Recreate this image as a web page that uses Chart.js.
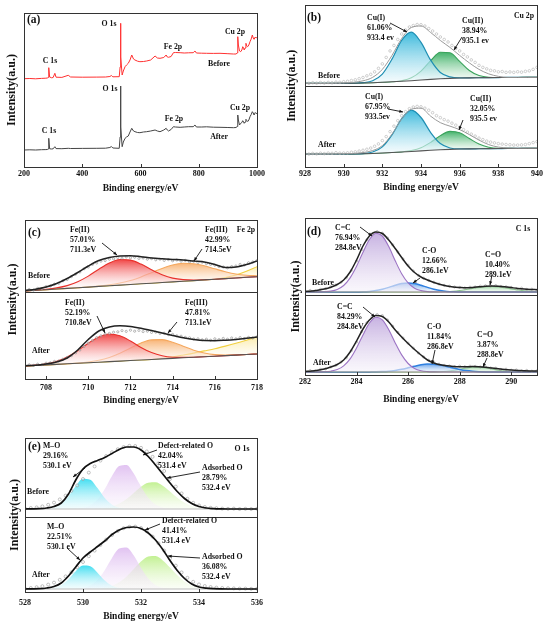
<!DOCTYPE html>
<html>
<head>
<meta charset="utf-8">
<script src="https://cdn.jsdelivr.net/npm/chart.js@4.4.0/dist/chart.umd.min.js"></script>
<style>
html, body { margin: 0; padding: 0; background: #fff; width: 550px; height: 629px; overflow: hidden; }
canvas { position: absolute; }
</style>
</head>
<body>
<canvas id="chartA" width="275" height="205" style="left:0;top:0"></canvas>
<canvas id="chartB" width="275" height="205" style="left:275px;top:0"></canvas>
<canvas id="chartC" width="275" height="210" style="left:0;top:205px"></canvas>
<canvas id="chartD" width="275" height="210" style="left:275px;top:205px"></canvas>
<canvas id="chartE" width="275" height="204" style="left:0;top:425px"></canvas>
<script>
// ---- (a) survey spectra, intensity in arbitrary units ----
var surveyEnergy = [200,220,240,260,275,280,283,285,288,295,300,306,310,330,352,360,400,450,480,495,500,505,527,530,531,533,537,541,547,552,558,564,570,576,581,590,598,610,621,635,650,658,667,680,688,692,696,705,713,720,736,750,765,781,787,792,810,827,850,873,900,919,928,932,934,936,940,944,948,951,954,956,959,962,965,968,972,976,980,984,987,990,994,997,1000];
var surveyBefore = [88.3,88.5,88.2,88.6,88.8,89,89.5,99.3,90,89.2,89.5,93.7,89.8,89.6,91.7,90,89.8,89.9,90,90.5,91.5,90.2,90.3,100,143.7,110,92,96,100.3,102,103.7,107,112,108,107,105.8,105.3,105.5,106,107,111,109,108.7,109.5,112,110,109.7,110.5,114.3,114.5,114.3,114,114.2,114.3,116,114,113.8,113.7,113.6,113.7,113.3,113,113,114,130.3,122,116,115.3,117,120.3,119,117,119,123.7,121,120.3,122,125.3,128,132,129,127.7,130,129,129.7];
var surveyAfter = [17,17.2,17,17.3,17.4,17.5,18,28.7,18.2,18,18.2,20.3,18.4,18.3,18.7,18.5,18.6,18.7,18.8,19.5,20.5,19,18.7,30,81,40,20.3,25,28.7,30,31,35,38.7,36,35.3,34.5,34.3,35,35.3,36,37,36,35.3,37,38.7,37,36,37.5,40.3,40,39.7,40,40.3,40.3,42,40,40,40.2,39.8,39.7,39.5,39.3,39.5,40.5,52,47,42,43.7,44.5,46.3,45,43.7,45,47.7,46.5,45.5,47,50.3,52.5,55.3,54,52,54.5,53.5,53.7];
var surveyTicks = [200,400,600,800,1000];

// ---- (b) Cu 2p ----
var cuEnergy = [928,928.5,929,929.5,930,930.5,931,931.5,932,932.5,933,933.5,934,934.5,935,935.5,936,936.5,937,937.5,938,938.5,939,939.5,940];
var cuBaseBefore = [84,84,84,84,84,84.1,84.3,84.6,85,85.5,86,86.6,87.3,87.9,88.5,89,89.3,89.5,89.6,89.7,89.8,89.9,89.9,90,90];
var cuIBefore = [0,0,0,0,0,0,0.3,2.0,8.3,22.8,41.1,48.7,37.8,19.3,6.4,1.4,0.2,0,0,0,0,0,0,0,0];
var cuIIBefore = [0,0,0,0,0,0,0,0,0,0,0.6,2.9,9.0,18.8,26.7,25.7,16.7,7.4,2.2,0.4,0.1,0,0,0,0];
var cuEnvBefore = [84,84,84,84.2,84.5,85,86.5,90,98,112,129,140,141.5,135,127,120,112,104.5,98,93.5,91,90,90,90,90];
var cuBaseAfter = [13,13,13,13,13,13.1,13.3,13.6,14,14.5,15,15.6,16.2,16.8,17.3,17.7,18,18.2,18.3,18.4,18.5,18.6,18.6,18.7,18.7];
var cuIAfter = [0,0,0,0,0,0,0.2,1.4,6.2,17.8,33.5,41.4,33.5,17.8,6.2,1.4,0.2,0,0,0,0,0,0,0,0];
var cuIIAfter = [0,0,0,0,0,0,0,0,0,0,0.2,0.9,3.1,7.9,14.2,18.1,16.3,10.4,4.7,1.5,0.3,0.1,0,0,0];
var cuEnvAfter = [13,13,13,13.1,13.3,13.6,14.5,16.5,21.5,33,48,58,59,51,44.5,41,37.5,32.5,27,22.5,20,19.2,19,19,19];
var cuDotEnergy = [928,928.2,928.4,928.6,928.8,929,929.2,929.4,929.6,929.8,930,930.2,930.4,930.6,930.8,931,931.2,931.4,931.6,931.8,932,932.2,932.4,932.6,932.8,933,933.2,933.4,933.6,933.8,934,934.2,934.4,934.6,934.8,935,935.2,935.4,935.6,935.8,936,936.2,936.4,936.6,936.8,937,937.2,937.4,937.6,937.8,938,938.2,938.4,938.6,938.8,939,939.2,939.4,939.6,939.8,940];
var cuDotsBefore = [84.5,84.0,84.6,84.2,84.8,84.3,84.9,84.5,85.2,85.0,85.6,86.0,86.8,87.5,88.6,89.8,91.5,93.0,95.5,99.0,103.5,110.0,116.5,122.0,128.0,133.5,137.5,140.5,142.0,143.0,142.8,141.5,139.0,136.5,133.5,130.5,128.0,125.5,122.0,119.0,116.5,113.0,110.5,107.5,105.0,102.0,100.0,98.5,97.0,96.5,95.5,95.8,95.0,95.4,95.0,95.6,95.2,96.0,96.5,98.0,100.0];
var cuDotsAfter = [13.5,13.0,13.6,13.2,13.8,13.4,14.0,13.7,14.3,13.9,14.0,14.2,14.8,15.2,16.0,16.8,17.8,19.0,20.8,23.2,26.5,30.5,35.5,41.0,46.5,51.5,55.5,58.5,60.2,60.8,60.4,59.0,57.0,54.5,51.5,49.5,47.5,46.0,44.0,42.0,40.0,37.5,35.0,33.0,31.0,29.0,27.5,26.0,25.0,24.2,23.5,23.0,22.6,22.3,22.0,22.0,22.2,22.6,23.4,24.5,25.5];
var cuTicks = [928,930,932,934,936,938,940];

// ---- (c) Fe 2p ----
var feEnergy = [707,707.5,708,708.5,709,709.5,710,710.5,711,711.5,712,712.5,713,713.5,714,714.5,715,715.5,716,716.5,717,717.5,718];
var feBaseBefore = [88,88.7,89.3,90,90.6,91.3,91.9,92.6,93.2,93.9,94.5,95.2,95.8,96.5,97.1,97.8,98.4,99.1,99.7,100.4,101,101.7,102.3];
var feIIBefore = [0,0.1,0.4,1.1,2.8,6.0,11.0,17.2,22.8,25.6,24.4,19.7,13.5,7.8,3.8,1.6,0.6,0.2,0,0,0,0,0];
var feIIIBefore = [0,0,0,0,0,0,0.1,0.4,1.0,2.1,4.0,6.9,10.5,14.1,16.9,17.9,16.9,14.1,10.5,6.9,4.0,2.1,1.0];
var feSatBefore = [0,0,0,0,0,0,0,0,0,0,0,0,0,0,0,0,0,0,0,1.0,3.0,6.0,10];
var feEnvBefore = [88.5,89.8,92,95.5,100.5,106.5,113,118.5,121.5,123,123.3,122.3,121,120.2,119.6,119,118,117,114.5,111.5,112,114.5,118];
var feBaseAfter = [13,13.5,14.1,14.6,15.2,15.7,16.3,16.8,17.4,17.9,18.5,19,19.5,20.1,20.6,21.2,21.7,22.3,22.8,23.4,23.9,24.5,25];
var feIIAfter = [0.1,0.4,1.2,3.1,6.9,12.6,19.5,25.3,27.6,25.3,19.5,12.6,6.9,3.1,1.2,0.4,0.1,0,0,0,0,0,0];
var feIIIAfter = [0,0,0,0,0,0.2,0.7,1.9,4.2,7.9,12.6,17.0,19.6,19.3,16.2,11.6,7.1,3.7,1.6,0.6,0.2,0,0];
var feSatAfter = [0,0,0,0,0,0,0,0,0,0,0,0,0,0.6,1.6,2.8,4.2,5.8,7.5,9.5,11.8,14.3,17];
var feEnvAfter = [13.2,13.8,15,17,21,29,39.5,48,52,53.2,52.6,50.8,48.4,46,43.6,41.2,39.4,38.4,38.3,38.8,39.6,40.7,42];
var feDotEnergy = [707,707.2,707.4,707.6,707.8,708,708.2,708.4,708.6,708.8,709,709.2,709.4,709.6,709.8,710,710.2,710.4,710.6,710.8,711,711.2,711.4,711.6,711.8,712,712.2,712.4,712.6,712.8,713,713.2,713.4,713.6,713.8,714,714.2,714.4,714.6,714.8,715,715.2,715.4,715.6,715.8,716,716.2,716.4,716.6,716.8,717,717.2,717.4,717.6,717.8,718];
var feDotsBefore = [88.0,89.5,88.8,90.6,90.2,92.4,93.0,94.8,95.6,98.2,99.5,102.4,104.8,107.0,110.2,112.0,114.6,116.0,117.8,118.4,119.8,120.2,121.4,120.8,122.0,121.2,121.8,120.6,121.0,119.8,120.4,119.2,119.8,118.6,119.4,118.2,119.0,117.8,118.6,117.2,117.8,116.4,116.8,115.4,114.6,113.8,112.4,112.0,111.2,112.4,113.0,114.6,114.0,116.2,117.0,118.4];
var feDotsAfter = [13.4,14.2,13.6,14.8,14.4,15.8,16.2,17.6,18.0,19.8,21.6,23.4,26.2,29.0,32.4,35.8,38.6,41.4,43.2,44.8,45.6,46.8,47.2,48.4,47.6,48.8,47.8,48.6,47.4,47.8,46.6,46.8,45.6,45.8,44.4,44.6,43.2,42.8,41.6,41.2,40.0,40.2,39.2,39.8,38.8,40.2,39.4,40.6,39.8,41.0,40.2,41.4,40.4,41.6,41.0,42.2];
var feTicks = [708,710,712,714,716,718];

// ---- (d) C 1s ----
var cEnergy = [282,282.25,282.5,282.75,283,283.25,283.5,283.75,284,284.25,284.5,284.75,285,285.25,285.5,285.75,286,286.25,286.5,286.75,287,287.25,287.5,287.75,288,288.25,288.5,288.75,289,289.25,289.5,289.75,290,290.25,290.5,290.75,291];
var cBaseBefore = 83;
var ccBefore = [0,0,0.1,0.3,0.9,2.6,6.5,14.1,25.7,39.8,52.5,58.8,56.0,45.4,31.2,18.3,9.1,3.8,1.4,0.4,0.1,0,0,0,0,0,0,0,0,0,0,0,0,0,0,0,0];
var coBefore = [0,0,0,0,0,0,0,0,0.1,0.2,0.6,1.4,2.8,4.6,6.7,8.4,9,8.4,6.7,4.6,2.8,1.4,0.6,0.2,0.1,0,0,0,0,0,0,0,0,0,0,0,0];
var cooBefore = [0,0,0,0,0,0,0,0,0,0,0,0,0,0,0,0,0,0,0,0,0,0.2,0.4,0.8,1.5,2.5,3.6,4.6,5.3,5.5,5.1,4.2,3.1,2.1,1.2,0.6,0.3];
var cEnvBefore = [83.5,84,84.8,86,87.8,90.5,95,103,115,129,139,143,141.5,135,126.5,117.5,109,102.5,98,95,92.5,90.5,89,88,87.5,87.2,87.5,88.2,88.8,89,88.8,88.2,87.4,86.6,86,85.6,85.3];
var cBaseAfter = 3;
var ccAfter = [0,0,0.1,0.2,0.8,2.4,6.1,13.1,24.0,37.1,49.0,54.8,52.2,42.3,29.1,17.1,8.5,3.6,1.3,0.4,0.1,0,0,0,0,0,0,0,0,0,0,0,0,0,0,0,0];
var coAfter = [0,0,0,0,0,0,0,0,0,0,0.1,0.2,0.4,0.8,1.6,2.7,4.2,5.8,7.2,7.9,7.8,6.9,5.5,3.9,2.5,1.4,0.7,0.3,0.1,0,0,0,0,0,0,0,0];
var cooAfter = [0,0,0,0,0,0,0,0,0,0,0,0,0,0,0,0,0,0,0,0,0.1,0.3,0.8,1.6,2.8,4.0,4.8,4.9,4.2,3.0,1.8,0.9,0.4,0.1,0,0,0];
var cEnvAfter = [3.5,4,4.8,6,8,10.5,15,23,34,46,55,59.5,58.5,53,45,38,31.5,25.5,20,15,12,10.2,9.2,8.6,8.3,8.3,8.4,8.3,7.8,7,6.2,5.5,5,4.6,4.3,4.1,4];
var cDotEnergy = [282,282.2,282.4,282.6,282.8,283,283.2,283.4,283.6,283.8,284,284.2,284.4,284.6,284.8,285,285.2,285.4,285.6,285.8,286,286.2,286.4,286.6,286.8,287,287.2,287.4,287.6,287.8,288,288.2,288.4,288.6,288.8,289,289.2,289.4,289.6,289.8,290,290.2,290.4,290.6,290.8,291];
var cDotsBefore = [83.8,84.6,84.2,85.6,86.4,88.2,90.0,92.8,97.2,104.6,114.0,125.4,135.2,141.0,143.4,141.8,137.0,130.2,123.0,116.0,109.8,104.0,99.6,96.8,94.6,92.8,91.0,89.6,88.8,88.0,87.6,87.0,87.8,88.0,88.8,89.2,89.0,89.4,88.6,88.2,87.6,86.4,86.8,85.6,85.8,85.0];
var cDotsAfter = [3.6,4.4,4.2,5.6,6.2,8.0,9.8,13.0,17.2,24.4,33.0,43.4,52.2,58.0,60.4,59.4,55.0,48.8,42.6,37.0,31.8,26.8,22.0,18.0,14.8,12.4,10.8,9.6,9.0,8.4,8.8,8.2,8.8,8.6,8.0,8.2,7.0,6.8,5.6,5.8,4.8,5.0,4.2,4.6,3.8,4.2];
var cTicks = [282,284,286,288,290];

// ---- (e) O 1s ----
var oEnergy = [528,528.25,528.5,528.75,529,529.25,529.5,529.75,530,530.25,530.5,530.75,531,531.25,531.5,531.75,532,532.25,532.5,532.75,533,533.25,533.5,533.75,534,534.25,534.5,534.75,535,535.25,535.5,535.75,536];
var oBaseBefore = 83;
var moBefore = [0,0,0,0.3,1.6,5.2,12.7,22.9,30.3,29.3,20.9,10.9,4.2,1.2,0.2,0,0,0,0,0,0,0,0,0,0,0,0,0,0,0,0,0,0];
var defBefore = [0,0,0,0,0,0,0,0.2,1.0,3.6,9.5,20.0,33.1,43.1,44.1,35.6,22.5,11.2,4.4,1.4,0.3,0,0,0,0,0,0,0,0,0,0,0,0];
var adsBefore = [0,0,0,0,0,0,0,0,0,0,0.3,1.0,2.5,5.4,10.0,16.1,22.2,26.3,26.7,23.2,17.4,11.2,6.2,2.9,1.2,0.4,0.1,0,0,0,0,0,0];
var oEnvBefore = [83,83.1,83.3,84,85.5,89,98,112,123,128.5,131.5,134.5,138.5,142.5,145,145,142,135.5,127,118,109,100.5,93.5,88.5,85.5,84,83.4,83.1,83,83,83,83,83];
var oBaseAfter = 3;
var moAfter = [0,0,0,0.2,1.2,4.0,9.8,17.7,23.4,22.7,16.2,8.4,3.3,0.9,0.2,0,0,0,0,0,0,0,0,0,0,0,0,0,0,0,0,0,0];
var defAfter = [0,0,0,0,0,0,0,0.2,0.9,3.4,8.9,18.8,31.1,40.5,41.5,33.5,21.2,10.5,4.1,1.3,0.3,0,0,0,0,0,0,0,0,0,0,0,0];
var adsAfter = [0,0,0,0,0,0,0,0,0,0,0.4,1.2,3.1,6.7,12.3,19.9,27.4,32.4,32.9,28.6,21.5,13.8,7.6,3.6,1.5,0.5,0.1,0,0,0,0,0,0];
var oEnvAfter = [3,3.1,3.3,4,5.5,9,16,25,34,40,45.5,51,57.5,62,64.5,65,63.5,59,52,42.5,31.5,21.5,13.5,8,5,3.8,3.3,3.1,3,3,3,3,3];
var oDotEnergy = [528,528.2,528.4,528.6,528.8,529,529.2,529.4,529.6,529.8,530,530.2,530.4,530.6,530.8,531,531.2,531.4,531.6,531.8,532,532.2,532.4,532.6,532.8,533,533.2,533.4,533.6,533.8,534,534.2,534.4,534.6,534.8,535,535.2,535.4,535.6,535.8,536];
var oDotsBefore = [83.5,84,84.6,85.6,87.2,89.4,92.6,96.4,101.2,106.6,113.0,119.4,125.6,131.4,136.0,139.8,142.8,145.0,146.2,146.0,144.2,140.6,135.2,128.6,121.0,113.0,105.4,98.6,93.2,89.2,86.6,85.0,84.2,83.8,83.4,83.2,83.4,83.0,83.2,83.0,83.2];
var oDotsAfter = [3.4,4.0,4.8,5.8,7.4,9.4,12.2,15.6,19.8,24.6,30.0,35.8,41.4,47.0,52.4,57.0,61.0,63.8,65.2,65.4,64.0,60.6,55.4,48.8,41.4,33.6,26.4,19.6,14.2,10.2,7.6,6.0,5.0,4.4,4.0,3.8,3.6,3.4,3.4,3.2,3.2];
var oTicks = [528,530,532,534,536];

var SERIF = '"Liberation Serif", "Times New Roman", serif';
Chart.defaults.font.family = SERIF;
Chart.defaults.font.weight = 'bold';
Chart.defaults.color = '#111';

function pts(xs, ys) {
  return xs.map(function (x, i) { return {x: x, y: ys[i]}; });
}

function grad(top, bot, c1, c2) {
  return function (ctx) {
    var chart = ctx.chart, ys = chart.scales.y;
    if (!chart.chartArea || !ys) return c1;
    var g = chart.ctx.createLinearGradient(0, ys.getPixelForValue(top), 0, ys.getPixelForValue(bot));
    g.addColorStop(0, c1);
    g.addColorStop(1, c2);
    return g;
  };
}

function arrow(c, x1, y1, x2, y2) {
  var a = Math.atan2(y2 - y1, x2 - x1);
  c.beginPath(); c.moveTo(x1, y1); c.lineTo(x2, y2); c.stroke();
  c.beginPath();
  c.moveTo(x2, y2);
  c.lineTo(x2 - 4 * Math.cos(a - 0.4), y2 - 4 * Math.sin(a - 0.4));
  c.lineTo(x2 - 4 * Math.cos(a + 0.4), y2 - 4 * Math.sin(a + 0.4));
  c.closePath(); c.fill();
}

// frame, inward ticks, divider line, labels and arrows
var notesPlugin = {
  id: 'notes',
  afterDraw: function (chart, args, o) {
    var c = chart.ctx, a = chart.chartArea, xs = chart.scales.x, ys = chart.scales.y;
    c.save();
    c.strokeStyle = '#333';
    c.lineWidth = 1;
    if (o.divider != null) {
      var py = Math.round(ys.getPixelForValue(o.divider)) + 0.5;
      c.beginPath(); c.moveTo(a.left, py); c.lineTo(a.right, py); c.stroke();
    }
    xs.ticks.forEach(function (t) {
      var px = Math.round(xs.getPixelForValue(t.value)) + 0.5;
      c.beginPath(); c.moveTo(px, a.bottom); c.lineTo(px, a.bottom - 3); c.stroke();
    });
    c.strokeRect(Math.round(a.left) + 0.5, Math.round(a.top) + 0.5, Math.round(a.right - a.left), Math.round(a.bottom - a.top));
    c.fillStyle = '#111';
    c.textBaseline = 'middle';
    (o.texts || []).forEach(function (t) {
      c.font = 'bold ' + (t.size || 7.8) + 'px ' + SERIF;
      c.textAlign = t.align || 'left';
      t.lines.forEach(function (s, i) { c.fillText(s, t.x - o.ox, t.y - o.oy + i * 10); });
    });
    c.strokeStyle = '#111';
    c.lineWidth = 0.9;
    (o.arrows || []).forEach(function (r) { arrow(c, r[0] - o.ox, r[1] - o.oy, r[2] - o.ox, r[3] - o.oy); });
    c.restore();
  }
};

// one spectrum: baseline, fitted components, raw points, envelope
function spectrum(list, s) {
  var flat = !Array.isArray(s.base);
  var baseIdx = list.length;
  var baseAt = function (i) { return flat ? s.base : s.base[i]; };
  list.push({
    data: flat ? [{x: s.grid[0], y: s.base}, {x: s.grid[s.grid.length - 1], y: s.base}] : pts(s.grid, s.base),
    borderColor: s.baseColor, borderWidth: 1.1, pointRadius: 0, fill: false, order: 6
  });
  s.comps.forEach(function (cp, k) {
    var data = s.grid.map(function (x, i) { return {x: x, y: baseAt(i) + cp.h[i]}; });
    var iMax = 0;
    cp.h.forEach(function (v, i) { if (v > cp.h[iMax]) iMax = i; });
    list.push({
      data: data, borderColor: cp.line, borderWidth: cp.lw, pointRadius: 0,
      cubicInterpolationMode: 'monotone',
      fill: flat ? {value: s.base} : baseIdx,
      backgroundColor: grad(data[iMax].y, baseAt(iMax), cp.c1, cp.c2),
      order: 20 - k
    });
  });
  list.push({
    data: pts(s.dotE, s.dots), showLine: false, pointRadius: s.dotR, pointBorderWidth: 0.6,
    pointBorderColor: s.dotColor, pointBackgroundColor: 'rgba(255,255,255,0.4)', order: 3
  });
  list.push({
    data: pts(s.grid, s.env), borderColor: s.envColor, borderWidth: s.envW, pointRadius: 0,
    cubicInterpolationMode: 'monotone', fill: false, order: 2
  });
}

function build(id, box, datasets, xr, yMax, notes) {
  var xH = box.titleY - box.fb + 5.7;
  notes.ox = box.left;
  notes.oy = box.top;
  return new Chart(document.getElementById(id), {
    type: 'line',
    data: {datasets: datasets},
    options: {
      responsive: false,
      animation: false,
      devicePixelRatio: 1,
      events: [],
      layout: {padding: {left: 0, top: box.ft - box.top, right: box.left + box.w - box.fr, bottom: box.top + box.h - box.fb - xH}},
      plugins: {legend: {display: false}, tooltip: {enabled: false}, notes: notes},
      scales: {
        x: {
          type: 'linear', min: xr[0], max: xr[1],
          afterBuildTicks: function (s) { s.ticks = xr[2].map(function (v) { return {value: v}; }); },
          afterFit: function (s) { s.height = xH; },
          grid: {display: false, drawTicks: false},
          border: {display: false},
          ticks: {font: {size: 8, weight: 'bold'}, color: '#111', padding: box.tickY - box.fb - 4.8, autoSkip: false, maxRotation: 0,
                  callback: function (v) { return String(v); }},
          title: {display: true, text: 'Binding energy/eV', font: {size: 9.5, weight: 'bold'}, color: '#111', padding: {top: 0, bottom: 0}}
        },
        y: {
          type: 'linear', min: 0, max: yMax,
          afterFit: function (s) { s.width = box.fl - box.left; },
          ticks: {display: false},
          grid: {display: false, drawTicks: false},
          border: {display: false},
          title: {display: true, text: 'Intensity(a.u.)', font: {size: 12, weight: 'bold'}, color: '#111', padding: {top: box.yTitleX - box.left - 7.2, bottom: 0}}
        }
      }
    },
    plugins: [notesPlugin]
  });
}

// (a)
build('chartA', {left: 0, top: 0, w: 275, h: 205, fl: 24, ft: 13, fr: 257, fb: 167, tickY: 174, titleY: 189, yTitleX: 12}, [
  {data: pts(surveyEnergy, surveyBefore), borderColor: '#ff3030', borderWidth: 1, pointRadius: 0, fill: false},
  {data: pts(surveyEnergy, surveyAfter), borderColor: '#444', borderWidth: 1, pointRadius: 0, fill: false}
], [200, 1000, surveyTicks], 154, {
  texts: [
    {x: 27, y: 20, lines: ['(a)'], size: 11.5},
    {x: 109, y: 24, lines: ['O 1s'], align: 'center'},
    {x: 50, y: 61, lines: ['C 1s'], align: 'center'},
    {x: 173, y: 47, lines: ['Fe 2p'], align: 'center'},
    {x: 235, y: 32, lines: ['Cu 2p'], align: 'center'},
    {x: 219, y: 64, lines: ['Before'], align: 'center'},
    {x: 110, y: 89, lines: ['O 1s'], align: 'center'},
    {x: 49, y: 131, lines: ['C 1s'], align: 'center'},
    {x: 174, y: 119, lines: ['Fe 2p'], align: 'center'},
    {x: 240, y: 108, lines: ['Cu 2p'], align: 'center'},
    {x: 219, y: 137, lines: ['After'], align: 'center'}
  ]
});

// (b)
var setsB = [];
spectrum(setsB, {grid: cuEnergy, base: cuBaseBefore, baseColor: '#555', env: cuEnvBefore, envColor: '#9a9a9a', envW: 1,
  dotE: cuDotEnergy, dots: cuDotsBefore, dotColor: '#b0b0b0', dotR: 1.3,
  comps: [
    {h: cuIIBefore, line: '#3aa35c', lw: 1.1, c1: 'rgba(46,170,90,0.9)', c2: 'rgba(235,248,238,0.6)'},
    {h: cuIBefore, line: '#1f8fb3', lw: 1.2, c1: 'rgba(40,178,216,0.9)', c2: 'rgba(232,247,251,0.6)'}
  ]});
spectrum(setsB, {grid: cuEnergy, base: cuBaseAfter, baseColor: '#555', env: cuEnvAfter, envColor: '#9a9a9a', envW: 1,
  dotE: cuDotEnergy, dots: cuDotsAfter, dotColor: '#b0b0b0', dotR: 1.3,
  comps: [
    {h: cuIIAfter, line: '#3aa35c', lw: 1.1, c1: 'rgba(46,170,90,0.9)', c2: 'rgba(235,248,238,0.6)'},
    {h: cuIAfter, line: '#1f8fb3', lw: 1.2, c1: 'rgba(40,178,216,0.9)', c2: 'rgba(232,247,251,0.6)'}
  ]});
build('chartB', {left: 275, top: 0, w: 275, h: 205, fl: 305, ft: 4, fr: 537, fb: 167, tickY: 174, titleY: 188, yTitleX: 292},
  setsB, [928, 940, cuTicks], 163, {
  divider: 81,
  texts: [
    {x: 307, y: 18, lines: ['(b)'], size: 11.5},
    {x: 524, y: 16, lines: ['Cu 2p'], align: 'center'},
    {x: 367, y: 18, lines: ['Cu(I)', '61.06%', '933.4 ev']},
    {x: 462, y: 21, lines: ['Cu(II)', '38.94%', '935.1 ev']},
    {x: 318, y: 76, lines: ['Before']},
    {x: 365, y: 97, lines: ['Cu(I)', '67.95%', '933.5ev']},
    {x: 470, y: 99, lines: ['Cu(II)', '32.05%', '935.5 ev']},
    {x: 318, y: 145, lines: ['After']}
  ],
  arrows: [[390, 23, 407, 32], [462, 37, 454, 50], [388, 109, 403, 112], [463, 120, 459, 130]]
});

// (c)
var setsC = [];
spectrum(setsC, {grid: feEnergy, base: feBaseBefore, baseColor: '#555', env: feEnvBefore, envColor: '#222', envW: 1.5,
  dotE: feDotEnergy, dots: feDotsBefore, dotColor: '#8a8a8a', dotR: 1.1,
  comps: [
    {h: feSatBefore, line: '#f2d040', lw: 1.1, c1: 'rgba(250,225,120,0.6)', c2: 'rgba(255,250,230,0.4)'},
    {h: feIIIBefore, line: '#f5a85e', lw: 1.1, c1: 'rgba(247,168,96,0.85)', c2: 'rgba(253,242,230,0.5)'},
    {h: feIIBefore, line: '#e8302a', lw: 1.1, c1: 'rgba(240,60,60,0.95)', c2: 'rgba(253,236,236,0.5)'}
  ]});
spectrum(setsC, {grid: feEnergy, base: feBaseAfter, baseColor: '#555', env: feEnvAfter, envColor: '#222', envW: 1.5,
  dotE: feDotEnergy, dots: feDotsAfter, dotColor: '#8a8a8a', dotR: 1.1,
  comps: [
    {h: feSatAfter, line: '#f2d040', lw: 1.1, c1: 'rgba(250,225,120,0.6)', c2: 'rgba(255,250,230,0.4)'},
    {h: feIIIAfter, line: '#f5a85e', lw: 1.1, c1: 'rgba(247,168,96,0.85)', c2: 'rgba(253,242,230,0.5)'},
    {h: feIIAfter, line: '#e8302a', lw: 1.1, c1: 'rgba(240,60,60,0.95)', c2: 'rgba(253,236,236,0.5)'}
  ]});
build('chartC', {left: 0, top: 205, w: 275, h: 210, fl: 25, ft: 220, fr: 257, fb: 379, tickY: 388, titleY: 401, yTitleX: 13},
  setsC, [707, 718, feTicks], 159, {
  divider: 87,
  texts: [
    {x: 28, y: 233, lines: ['(c)'], size: 11.5},
    {x: 246, y: 230, lines: ['Fe 2p'], align: 'center'},
    {x: 70, y: 230, lines: ['Fe(II)', '57.01%', '711.3eV']},
    {x: 205, y: 230, lines: ['Fe(III)', '42.99%', '714.5eV']},
    {x: 28, y: 276, lines: ['Before']},
    {x: 65, y: 303, lines: ['Fe(II)', '52.19%', '710.8eV']},
    {x: 185, y: 303, lines: ['Fe(III)', '47.81%', '713.1eV']},
    {x: 32, y: 351, lines: ['After']}
  ],
  arrows: [[102, 243, 117, 255], [202, 249, 194, 261], [97, 316, 105, 333], [177, 322, 168, 333]]
});

// (d)
var setsD = [];
spectrum(setsD, {grid: cEnergy, base: cBaseBefore, baseColor: '#8a8a7a', env: cEnvBefore, envColor: '#222', envW: 1.5,
  dotE: cDotEnergy, dots: cDotsBefore, dotColor: '#999', dotR: 1.1,
  comps: [
    {h: cooBefore, line: '#8cc490', lw: 1.1, c1: 'rgba(160,218,166,0.9)', c2: 'rgba(238,248,239,0.5)'},
    {h: coBefore, line: '#2f80e0', lw: 1.5, c1: 'rgba(92,156,232,0.9)', c2: 'rgba(234,242,252,0.5)'},
    {h: ccBefore, line: '#9c74c4', lw: 1.1, c1: 'rgba(196,174,224,0.95)', c2: 'rgba(246,242,250,0.6)'}
  ]});
spectrum(setsD, {grid: cEnergy, base: cBaseAfter, baseColor: '#8a8a7a', env: cEnvAfter, envColor: '#222', envW: 1.5,
  dotE: cDotEnergy, dots: cDotsAfter, dotColor: '#999', dotR: 1.1,
  comps: [
    {h: cooAfter, line: '#8cc490', lw: 1.1, c1: 'rgba(160,218,166,0.9)', c2: 'rgba(238,248,239,0.5)'},
    {h: coAfter, line: '#2f80e0', lw: 1.5, c1: 'rgba(92,156,232,0.9)', c2: 'rgba(234,242,252,0.5)'},
    {h: ccAfter, line: '#9c74c4', lw: 1.1, c1: 'rgba(196,174,224,0.95)', c2: 'rgba(246,242,250,0.6)'}
  ]});
build('chartD', {left: 275, top: 205, w: 275, h: 210, fl: 305, ft: 218, fr: 537, fb: 375, tickY: 382, titleY: 400, yTitleX: 296},
  setsD, [282, 291, cTicks], 157, {
  divider: 80,
  texts: [
    {x: 307, y: 232, lines: ['(d)'], size: 11.5},
    {x: 523, y: 229, lines: ['C 1s'], align: 'center'},
    {x: 335, y: 228, lines: ['C=C', '76.94%', '284.8eV']},
    {x: 422, y: 251, lines: ['C-O', '12.66%', '286.1eV']},
    {x: 485, y: 255, lines: ['C=O', '10.40%', '289.1eV']},
    {x: 312, y: 283, lines: ['Before']},
    {x: 337, y: 307, lines: ['C=C', '84.29%', '284.8eV']},
    {x: 427, y: 327, lines: ['C-O', '11.84%', '286.8eV']},
    {x: 477, y: 335, lines: ['C=O', '3.87%', '288.8eV']},
    {x: 313, y: 363, lines: ['After']}
  ],
  arrows: [[360, 227, 372, 236], [420, 278, 413, 283], [492, 275, 490, 285], [363, 307, 375, 317], [435, 350, 432, 364], [487, 358, 483, 367]]
});

// (e)
var setsE = [];
spectrum(setsE, {grid: oEnergy, base: oBaseBefore, baseColor: '#bbb', env: oEnvBefore, envColor: '#111', envW: 1.7,
  dotE: oDotEnergy, dots: oDotsBefore, dotColor: '#999', dotR: 1.5,
  comps: [
    {h: adsBefore, line: 'rgba(0,0,0,0)', lw: 0, c1: 'rgba(184,238,128,0.85)', c2: 'rgba(245,252,236,0.4)'},
    {h: defBefore, line: 'rgba(0,0,0,0)', lw: 0, c1: 'rgba(222,188,240,0.9)', c2: 'rgba(249,242,252,0.4)'},
    {h: moBefore, line: 'rgba(0,0,0,0)', lw: 0, c1: 'rgba(56,220,240,0.95)', c2: 'rgba(226,250,253,0.4)'}
  ]});
spectrum(setsE, {grid: oEnergy, base: oBaseAfter, baseColor: '#bbb', env: oEnvAfter, envColor: '#111', envW: 1.7,
  dotE: oDotEnergy, dots: oDotsAfter, dotColor: '#999', dotR: 1.5,
  comps: [
    {h: adsAfter, line: 'rgba(0,0,0,0)', lw: 0, c1: 'rgba(184,238,128,0.85)', c2: 'rgba(245,252,236,0.4)'},
    {h: defAfter, line: 'rgba(0,0,0,0)', lw: 0, c1: 'rgba(222,188,240,0.9)', c2: 'rgba(249,242,252,0.4)'},
    {h: moAfter, line: 'rgba(0,0,0,0)', lw: 0, c1: 'rgba(56,220,240,0.95)', c2: 'rgba(226,250,253,0.4)'}
  ]});
build('chartE', {left: 0, top: 425, w: 275, h: 204, fl: 25, ft: 438, fr: 257, fb: 592, tickY: 603, titleY: 617, yTitleX: 15},
  setsE, [528, 536, oTicks], 154, {
  divider: 75,
  texts: [
    {x: 28, y: 447, lines: ['(e)'], size: 11.5},
    {x: 242, y: 449, lines: ['O 1s'], align: 'center'},
    {x: 43, y: 446, lines: ['M\u2013O', '29.16%', '530.1 eV']},
    {x: 158, y: 446, lines: ['Defect-related O', '42.04%', '531.4 eV']},
    {x: 202, y: 468, lines: ['Adsorbed O', '28.79%', '532.4 eV']},
    {x: 27, y: 492, lines: ['Before']},
    {x: 47, y: 527, lines: ['M\u2013O', '22.51%', '530.1 eV']},
    {x: 162, y: 521, lines: ['Defect-related O', '41.41%', '531.4 eV']},
    {x: 202, y: 557, lines: ['Adsorbed O', '36.08%', '532.4 eV']},
    {x: 32, y: 575, lines: ['After']}
  ],
  arrows: [[85, 468, 73, 477], [157, 450, 143, 455], [200, 472, 167, 478], [67, 548, 80, 560], [160, 524, 145, 530], [200, 558, 168, 556]]
});
</script>
</body>
</html>
